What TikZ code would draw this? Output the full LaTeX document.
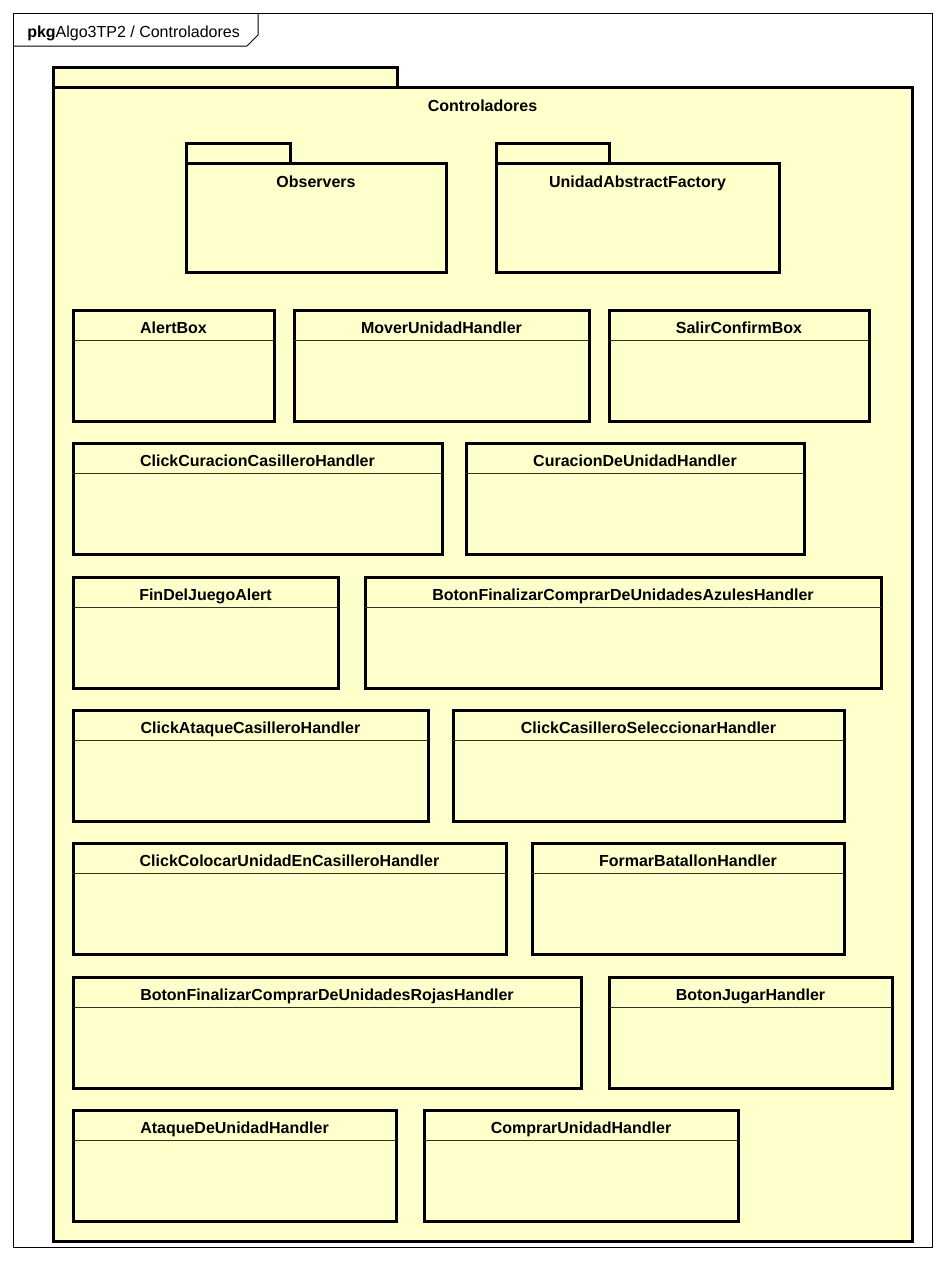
\documentclass[tikz,border=0pt]{standalone}
\usepackage{fontspec}
\setmainfont{Liberation Sans}
\usetikzlibrary{calc,positioning}
\definecolor{umlyellow}{RGB}{255,255,204}
\definecolor{sepdark}{RGB}{50,50,30}

% class box: name, x, y, width, title
\newcommand\umlclass[5]{
  \node[classbox, minimum width={#4*0.75pt}, anchor=north west] (#1) at (#2,#3) {};
  \draw[classsep] ($(#1.north west)+(0,30)$) -- ($(#1.north east)+(0,30)$);
  \node[classtitle] (#1-name) at ($(#1.north)+(0,18)$) {#5};
}

% package: name, x, y, tab width, body width, body height, title
\newcommand\umlpackage[7]{
  \node[pkgbox, minimum width={#4*0.75pt}, minimum height={20*0.75pt}, anchor=north west] (#1-tab) at (#2,#3) {};
  \node[pkgbox, minimum width={#5*0.75pt}, minimum height={#6*0.75pt}, anchor=north west] (#1) at ($(#1-tab.south west)$) {};
  \node[classtitle] (#1-name) at ($(#1.north)+(0,19)$) {#7};
}

\begin{document}
\begin{tikzpicture}[x=0.75pt,y=-0.75pt,
    classbox/.style={draw=black, fill=umlyellow, line width=2.25pt,
      inner sep=0pt, outer sep=0pt, minimum height={111*0.75pt}},
    pkgbox/.style={draw=black, fill=umlyellow, line width=2.25pt,
      inner sep=0pt, outer sep=0pt},
    classsep/.style={draw=sepdark, line width=0.75pt},
    classtitle/.style={font={\fontsize{12}{14}\selectfont\bfseries},
      inner sep=0pt, text height=8.6pt, text depth=0pt},
    framelabel/.style={font={\fontsize{12}{14}\selectfont},
      inner sep=0pt, text height=8.6pt, text depth=0pt, anchor=west}
  ]

  \useasboundingbox[fill=white] (0,0) rectangle (945,1261);

  %% outer frame
  \node[draw=black, line width=0.75pt, inner sep=0pt, outer sep=0pt,
    minimum width={919*0.75pt}, minimum height={1234*0.75pt},
    anchor=north west] (frame) at (13,13) {};
  \draw[line width=0.75pt] (13,46) -- (247,46) -- (258,35) -- (258,13);
  \node[framelabel] (frame-name) at (27,32) {\textbf{pkg}Algo3TP2 / Controladores};

  %% packages
  \umlpackage{controladores}{53}{67}{344}{859}{1154}{Controladores}
  \umlpackage{observers}{186}{143}{104}{260}{109}{Observers}
  \umlpackage{factory}{496}{143}{113}{283}{109}{UnidadAbstractFactory}

  %% row 1
  \umlclass{alert}{73}{310}{201}{AlertBox}
  \umlclass{mover}{294}{310}{295}{MoverUnidadHandler}
  \umlclass{salir}{609}{310}{260}{SalirConfirmBox}

  %% row 2
  \umlclass{clickcur}{73}{443}{369}{ClickCuracionCasilleroHandler}
  \umlclass{curacion}{466}{443}{338}{CuracionDeUnidadHandler}

  %% row 3
  \umlclass{fin}{73}{577}{265}{FinDelJuegoAlert}
  \umlclass{azules}{365}{577}{516}{BotonFinalizarComprarDeUnidadesAzulesHandler}

  %% row 4
  \umlclass{clickata}{73}{710}{355}{ClickAtaqueCasilleroHandler}
  \umlclass{clicksel}{453}{710}{391}{ClickCasilleroSeleccionarHandler}

  %% row 5
  \umlclass{clickcol}{73}{843}{433}{ClickColocarUnidadEnCasilleroHandler}
  \umlclass{batallon}{532}{843}{312}{FormarBatallonHandler}

  %% row 6
  \umlclass{rojas}{73}{977}{508}{BotonFinalizarComprarDeUnidadesRojasHandler}
  \umlclass{jugar}{609}{977}{283}{BotonJugarHandler}

  %% row 7
  \umlclass{ataque}{73}{1110}{323}{AtaqueDeUnidadHandler}
  \umlclass{comprar}{424}{1110}{314}{ComprarUnidadHandler}

\end{tikzpicture}
\end{document}
